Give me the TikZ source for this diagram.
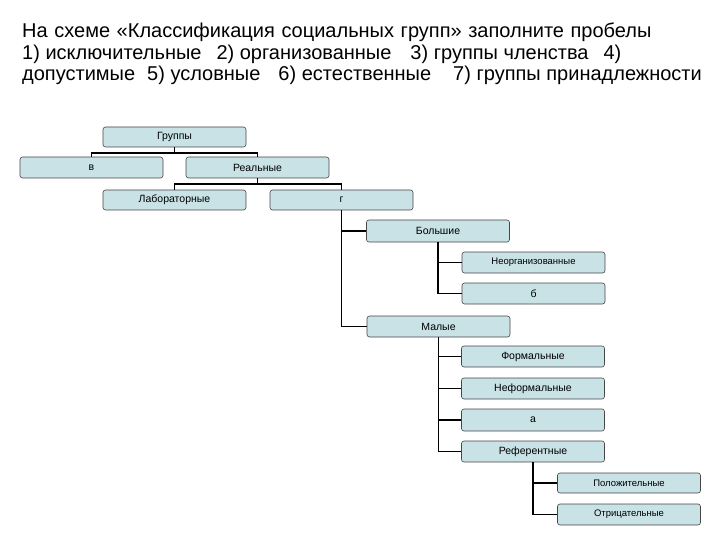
\documentclass[tikz,border=0pt]{standalone}
\usepackage{fontspec}
\setmainfont{Liberation Sans}
\definecolor{boxfill}{RGB}{200,226,230}
\definecolor{boxline}{RGB}{70,70,70}
\begin{document}
\begin{tikzpicture}[x=1pt,y=-1pt,
  box/.style={draw=boxline, line width=0.6pt, fill=boxfill, rounded corners=2.5pt,
    minimum width=143pt, minimum height=21pt, inner sep=0pt,
    font=\fontsize{10.5}{11}\selectfont},
  smallbox/.style={box, font=\fontsize{9.5}{10}\selectfont},
  conn/.style={line width=1.8pt, black},
  title/.style={anchor=base west, inner sep=0pt, font=\fontsize{20}{22}\selectfont}]
\useasboundingbox[fill=white] (0,0) rectangle (720,540);
% title
\node[title] (t1) at (22,38) {\spaceskip=0.33em На схеме «Классификация социальных групп» заполните пробелы};
\node[title] (t2) at (22,59.5) {1) исключительные\hspace{0.75em}2) организованные\hspace{0.95em}3) группы членства\hspace{0.75em}4)};
\node[title] (t3) at (22,81) {допустимые\hspace{0.6em}5) условные\hspace{0.9em}6) естественные\hspace{1.1em}7) группы принадлежности};
% boxes
\node[box, minimum height=20pt] (grp) at (174.5,137) {Группы};
\node[box] (v) at (91.5,167.5) {в};
\node[box] (real) at (257.5,167.5) {Реальные};
\node[box, minimum height=20pt] (lab) at (174.5,200) {Лабораторные};
\node[box, minimum height=20pt] (gg) at (341.5,200) {г};
\node[box, minimum height=22pt] (big) at (438,231) {Большие};
\node[smallbox] (neorg) at (533.5,262.5) {Неорганизованные};
\node[box] (b) at (533.5,293.5) {б};
\node[box] (mal) at (438.5,326.5) {Малые};
\node[box] (form) at (533,356.5) {Формальные};
\node[box] (neform) at (533,388.5) {Неформальные};
\node[box, minimum height=22pt] (a) at (533,420) {а};
\node[box] (ref) at (533,451.5) {Референтные};
\node[smallbox, minimum height=20pt] (pos) at (629,483) {Положительные};
\node[smallbox] (neg) at (629,514.5) {Отрицательные};
% connectors
\coordinate (j1) at (174.5,153);
\coordinate (j2) at (257.5,184);
\draw[conn] (grp.south) -- (j1);
\draw[conn] (v.north) |- (j1);
\draw[conn] (real.north) |- (j1);
\draw[conn] (real.south) -- (j2);
\draw[conn] (lab.north) |- (j2);
\draw[conn] (gg.north) |- (j2);
\draw[conn] (gg.south) |- (big.west);
\draw[conn] (gg.south) |- (mal.west);
\draw[conn] (big.south) |- (neorg.west);
\draw[conn] (big.south) |- (b.west);
\draw[conn] (mal.south) |- (form.west);
\draw[conn] (mal.south) |- (neform.west);
\draw[conn] (mal.south) |- (a.west);
\draw[conn] (mal.south) |- (ref.west);
\draw[conn] (ref.south) |- (pos.west);
\draw[conn] (ref.south) |- (neg.west);
\end{tikzpicture}
\end{document}
